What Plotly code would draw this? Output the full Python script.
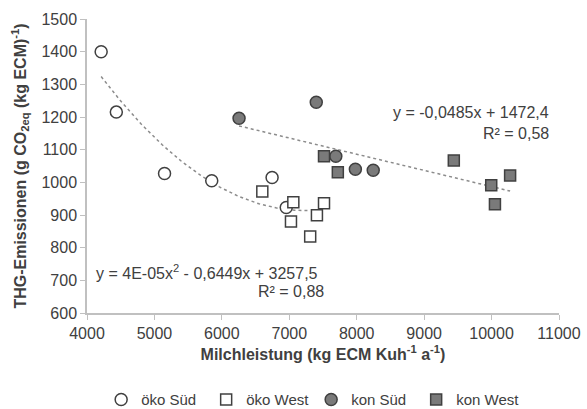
import numpy as np
import plotly.graph_objects as go

# --- data ---
oeko_sued_x = [4210, 4435, 5150, 5850, 6745, 6955]
oeko_sued_y = [1400, 1215, 1027, 1005, 1015, 923]
oeko_west_x = [6600, 7060, 7025, 7515, 7410, 7310]
oeko_west_y = [972, 939, 880, 936, 899, 834]
kon_sued_x = [6255, 7400, 7690, 7980, 8245]
kon_sued_y = [1196, 1245, 1080, 1040, 1037]
kon_west_x = [7515, 7720, 9440, 9995, 10275, 10050]
kon_west_y = [1080, 1031, 1067, 991, 1021, 933]

series_names = ["öko Süd", "öko West", "kon Süd", "kon West"]
eq_oeko = ["y = 4E-05x<sup>2</sup> - 0,6449x + 3257,5", "R² = 0,88"]
eq_kon = ["y = -0,0485x + 1472,4", "R² = 0,58"]

FONT = "Liberation Sans, Arial, sans-serif"
DARK = "#404040"
GRAY = "#7a7a7a"
AXIS = "#c0c0c0"

fig = go.Figure()

# trendlines fitted from the data
ox = np.array(oeko_sued_x + oeko_west_x, float)
oy = np.array(oeko_sued_y + oeko_west_y, float)
pq = np.polyfit(ox, oy, 2)
xs = np.linspace(ox.min(), 7300, 100)
fig.add_trace(go.Scatter(x=xs, y=np.polyval(pq, xs), mode="lines",
                         line=dict(color="#8c8c8c", width=1.5, dash="dot"),
                         showlegend=False, hoverinfo="skip"))
kx = np.array(kon_sued_x + kon_west_x, float)
ky = np.array(kon_sued_y + kon_west_y, float)
pl = np.polyfit(kx, ky, 1)
xs2 = np.linspace(kx.min(), kx.max(), 50)
fig.add_trace(go.Scatter(x=xs2, y=np.polyval(pl, xs2), mode="lines",
                         line=dict(color="#8c8c8c", width=1.5, dash="dot"),
                         showlegend=False, hoverinfo="skip"))

styles = [
    (oeko_sued_x, oeko_sued_y, "circle", "white"),
    (oeko_west_x, oeko_west_y, "square", "white"),
    (kon_sued_x, kon_sued_y, "circle", GRAY),
    (kon_west_x, kon_west_y, "square", GRAY),
]
for name, (x, y, sym, fill) in zip(series_names, styles):
    fig.add_trace(go.Scatter(x=x, y=y, mode="markers", name=name,
                             marker=dict(symbol=sym, size=12 if sym == "circle" else 11,
                                         color=fill, line=dict(color=DARK, width=1.5))))

EQF = dict(size=16, color=DARK, family=FONT)
ann = [
    dict(x=4110, y=727, xref="x", yref="y", text=eq_oeko[0], showarrow=False,
         xanchor="left", yanchor="middle", font=EQF),
    dict(x=7540, y=666, xref="x", yref="y", text=eq_oeko[1], showarrow=False,
         xanchor="right", yanchor="middle", font=EQF),
    dict(x=10880, y=1215, xref="x", yref="y", text=eq_kon[0], showarrow=False,
         xanchor="right", yanchor="middle", font=EQF),
    dict(x=10880, y=1150, xref="x", yref="y", text=eq_kon[1], showarrow=False,
         xanchor="right", yanchor="middle", font=EQF),
]

fig.update_layout(
    width=587, height=409,
    margin=dict(l=87, r=28, t=19, b=96, autoexpand=False),
    paper_bgcolor="white", plot_bgcolor="white",
    font=dict(family=FONT, color=DARK, size=15),
    annotations=ann,
    legend=dict(orientation="h", x=0.03, xanchor="left", y=-0.295, yanchor="middle",
                font=dict(size=15, color=DARK), itemwidth=30, tracegroupgap=0,
                entrywidth=60, entrywidthmode="pixels"),
    xaxis=dict(range=[4000, 11000], dtick=1000, tickformat="d", showgrid=False,
               zeroline=False, showline=True, linecolor=AXIS, linewidth=1.5,
               ticks="outside", ticklen=5, tickcolor=AXIS, automargin=False,
               tickfont=dict(size=16, color=DARK),
               title=dict(text="<b>Milchleistung (kg ECM Kuh<sup>-1</sup> a<sup>-1</sup>)</b>",
                          font=dict(size=16, color=DARK), standoff=8)),
    yaxis=dict(range=[600, 1500], dtick=100, tickformat="d", showgrid=False,
               zeroline=False, showline=True, linecolor=AXIS, linewidth=1.5,
               ticks="outside", ticklen=5, tickcolor=AXIS, automargin=False,
               tickfont=dict(size=16, color=DARK),
               title=dict(text="<b>THG-Emissionen (g CO<sub>2eq</sub> (kg ECM)<sup>-1</sup>)</b>",
                          font=dict(size=16, color=DARK), standoff=11)),
)

fig.write_html("out.html", config={"displayModeBar": False},
               post_script="document.body.style.margin='0px';")
